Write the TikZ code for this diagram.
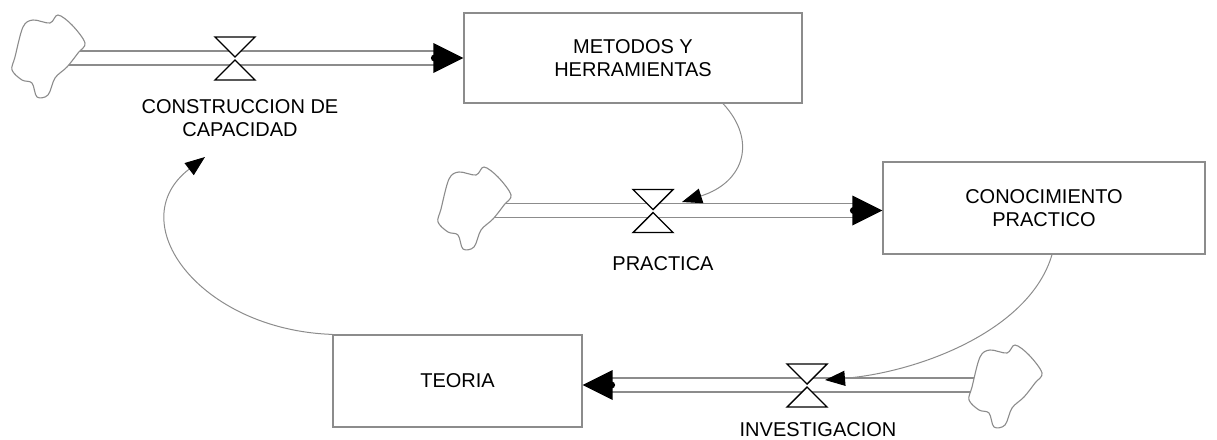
\documentclass[tikz,border=0pt]{standalone}
\usepackage{fontspec}
\setmainfont{Liberation Sans}
\usetikzlibrary{arrows.meta,calc}

\definecolor{linegray}{RGB}{140,140,140}

\tikzset{
  stock/.style={draw=linegray, line width=1.2pt, fill=white, minimum width=#1,
    minimum height=91pt, inner sep=0pt, align=center,
    font=\fontsize{20}{23.5}\selectfont},
  lbl/.style={align=center, inner sep=0pt, font=\fontsize{20}{23.5}\selectfont},
  pipe/.style={draw=linegray, line width=1.2pt, double=white, double distance=12.8pt},
  link/.style={draw=linegray, line width=1pt,
    -{Triangle[length=20pt,width=15pt,color=black]}},
  pics/valve/.style={code={
    \draw[black, line width=1.4pt, fill=white, line join=miter]
      (-20,-21) -- (20,-21) -- (0,-1) -- cycle
      (0,2) -- (-20,22) -- (20,22) -- cycle;
  }},
  pics/cloud/.style={code={
    \draw[linegray, line width=1.1pt, fill=white]
      plot[smooth cycle, tension=0.55] coordinates {
        (-35,1) (-27,-29) (-17,-36) (0,-33) (8,-41) (22,-31) (35,-13)
        (28,-3) (17,11) (5,22) (-2,39) (-13,41) (-18,27) (-28,24) (-38,14)};
  }}
}

% flow head: filled triangle with a small round knob at its base
\newcommand{\flowhead}[2]{% tip, direction (+1 right, -1 left)
  \fill[black] ($(#1)+(-30*#2,-15)$) -- (#1) -- ($(#1)+(-30*#2,15)$) -- cycle;
  \fill[black] ($(#1)+(-29*#2,0)$) circle (3.5);
}

\begin{document}
\begin{tikzpicture}[x=1pt,y=-1pt]
\useasboundingbox (0,0) rectangle (1217,439);

% stocks
\node[stock=338pt, minimum height=90pt] (met) at (633,58) {METODOS Y\\HERRAMIENTAS};
\node[stock=322pt, minimum height=92pt] (con) at (1044,208) {CONOCIMIENTO\\PRACTICO};
\node[stock=249pt, minimum height=92pt] (teo) at (457.5,381) {TEORIA};

% valves and clouds
\coordinate (v1) at (235,58);
\coordinate (v2) at (653,210.5);
\coordinate (v3) at (807,385);
\coordinate (c1) at (50,56);
\coordinate (c2) at (476,208);
\coordinate (c3) at (1007,386);

% flow endpoints at the stocks
\coordinate (t1) at (met.west |- v1);
\coordinate (t2) at (con.west |- v2);
\coordinate (t3) at (teo.east |- v3);

% pipes
\draw[pipe] (c1 |- v1) -- ($(t1)+(-28,0)$);
\draw[pipe] (c2 |- v2) -- ($(t2)+(-28,0)$);
\draw[pipe] (c3 |- v3) -- ($(t3)+(28,0)$);
\flowhead{t1}{1}
\flowhead{t2}{1}
\flowhead{t3}{-1}

\pic at (c1) {cloud};
\pic at (c2) {cloud};
\pic at (c3) {cloud};
\pic at (v1) {valve};
\pic at (v2) {valve};
\pic at (v3) {valve};

% flow names
\node[lbl] (l1) at (240,118) {CONSTRUCCION DE\\CAPACIDAD};
\node[lbl] (l2) at (663,264) {PRACTICA};
\node[lbl] (l3) at (818,430) {INVESTIGACION};

% information links
\coordinate (a1) at (682,202);
\coordinate (a2) at (825,380);
\coordinate (a3) at (205,157);
\draw[link] ($(met.south)+(90,0)$) .. controls (757,140) and (745,182) .. (a1);
\draw[link] ($(con.south)+(8,0)$) .. controls (1030,330) and (920,372) .. (a2);
\draw[link] (teo.north west) .. controls (200,330) and (120,222) .. (a3);
\end{tikzpicture}
\end{document}
